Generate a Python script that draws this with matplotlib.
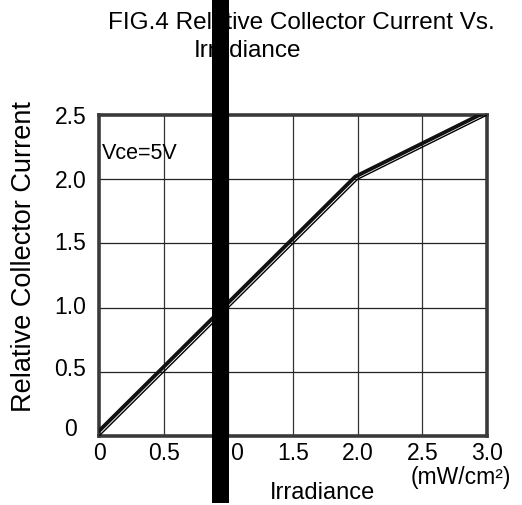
import matplotlib
matplotlib.use("Agg")
import matplotlib.pyplot as plt
import matplotlib.transforms as mtransforms
from matplotlib.patches import Rectangle

plt.rcParams["font.family"] = ["Liberation Sans", "DejaVu Sans"]

# curve data
irradiance = [0, 2.0, 3.0]
rel_current = [0, 2.0, 2.5]

x_ticks = [0, 0.5, 1.0, 1.5, 2.0, 2.5, 3.0]
x_tick_labels = ["0", "0.5", "1.0", "1.5", "2.0", "2.5", "3.0"]
y_ticks = [0, 0.5, 1.0, 1.5, 2.0, 2.5]
y_tick_labels = ["0", "0.5", "1.0", "1.5", "2.0", "2.5"]

fig = plt.figure(figsize=(5.22, 5.06), dpi=100)
ax = fig.add_axes([0.1897, 0.1364, 0.933 - 0.1897, 0.7708 - 0.1364])

ax.set_xlim(0, 3.0)
ax.set_ylim(0, 2.5)

# grid
for x in x_ticks[1:-1]:
    ax.axvline(x, color="#333333", lw=0.9, zorder=1)
for y in y_ticks[1:-1]:
    ax.axhline(y, color="#222222", lw=0.9, zorder=1)

# double line: thin one on data, thick one offset up-left
ax.plot(irradiance, rel_current, color="black", lw=1.0, zorder=3)
shifted = mtransforms.offset_copy(ax.transData, fig=fig, x=-2.5, y=2.5, units="dots")
ax.plot(irradiance, rel_current, color="#111111", lw=2.8, zorder=3,
        transform=shifted, solid_capstyle="round", solid_joinstyle="round")

for s in ax.spines.values():
    s.set_linewidth(2.6)
    s.set_color("#3a3a3a")

ax.set_xticks(x_ticks)
ax.set_xticklabels(x_tick_labels, fontsize=16.5)
ax.set_yticks(y_ticks)
ax.set_yticklabels(y_tick_labels, fontsize=16.5)
ax.tick_params(axis="both", length=0)
ax.tick_params(axis="x", pad=3.5)
ax.tick_params(axis="y", pad=20.5)

# y labels in the original sit a little higher towards the bottom
lift = [10, 6, 4, 3, 1, 1]
for lbl, dy in zip(ax.get_yticklabels(), lift):
    lbl.set_horizontalalignment("center")
    lbl.set_transform(lbl.get_transform() + mtransforms.Affine2D().translate(0, dy))

ax.text(0.02, 2.21, "Vce=5V", fontsize=15.5, va="center", ha="left")

fig.text(24 / 522, 1 - 257 / 506, "Relative Collector Current", fontsize=19.5,
         rotation=90, ha="center", va="center")
fig.text(322 / 522, 1 - 493 / 506, "Irradiance", fontsize=17, ha="center", va="center")
fig.text(461 / 522, 1 - 478 / 506, "(mW/cm²)", fontsize=16.5, ha="center", va="center")

fig.text(301 / 522, 1 - 23 / 506, "FIG.4 Relative Collector Current Vs.",
         fontsize=17.5, ha="center", va="center")
fig.text(248 / 522, 1 - 51 / 506, "Irradiance", fontsize=17.5, ha="center", va="center")

# black redaction bar
fig.add_artist(Rectangle((212 / 522, 0.004), 17 / 522, 1.0, transform=fig.transFigure,
                         facecolor="black", edgecolor="none", zorder=10))

fig.savefig("out.png", dpi=100)
